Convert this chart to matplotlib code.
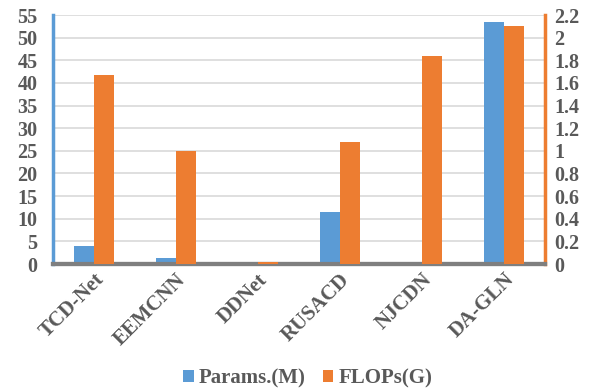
import numpy as np
import matplotlib.pyplot as plt

models = ['TCD-Net', 'EEMCNN', 'DDNet', 'RUSACD', 'NJCDN', 'DA-GLN']
params = [4.0, 1.3, 0.05, 11.6, 0.3, 53.4]
flops = [1.67, 1.0, 0.02, 1.08, 1.84, 2.105]
left_ticks = list(range(0, 56, 5))
right_ticks = [0, 0.2, 0.4, 0.6, 0.8, 1, 1.2, 1.4, 1.6, 1.8, 2, 2.2]
right_labels = ['0', '0.2', '0.4', '0.6', '0.8', '1', '1.2', '1.4', '1.6', '1.8', '2', '2.2']

blue = '#5B9BD5'
orange = '#ED7D31'
gray = '#595959'

plt.rcParams['font.family'] = ['Liberation Serif', 'DejaVu Serif']

fig = plt.figure(figsize=(6, 3.9), dpi=100)
ax = fig.add_axes([0.088, 0.323, 0.82, 0.6385])
ax2 = ax.twinx()

x = np.arange(len(models))
w = 0.245
b1 = ax.bar(x - w / 2, params, w, color=blue, label='Params.(M)', zorder=3)
b2 = ax2.bar(x + w / 2, flops, w, color=orange, label='FLOPs(G)', zorder=3)

ax.set_xlim(-0.5, len(models) - 0.5)
ax.set_ylim(0, 55)
ax2.set_ylim(0, 2.2)
ax.set_yticks(left_ticks)
ax.set_yticklabels([str(t) for t in left_ticks], fontsize=14.5, fontweight='bold')
ax2.set_yticks(right_ticks)
ax2.set_yticklabels(right_labels, fontsize=14.5, fontweight='bold')
ax.yaxis.grid(True, color='#D9D9D9', linewidth=1.2, zorder=0)
ax.set_axisbelow(True)

ax.set_xticks(x)
ax.set_xticklabels(models, rotation=45, ha='right', rotation_mode='anchor',
                   fontsize=15, fontweight='bold')

for a in (ax, ax2):
    a.tick_params(length=0, colors=gray)
    a.spines['top'].set_visible(False)
    a.spines['bottom'].set_color('#7F7F7F')
    a.spines['bottom'].set_linewidth(3)
    a.spines['left'].set_visible(False)
    a.spines['right'].set_visible(False)
ax.spines['left'].set_visible(True)
ax.spines['left'].set_color(blue)
ax.spines['left'].set_linewidth(2.5)
ax2.spines['right'].set_visible(True)
ax2.spines['right'].set_color(orange)
ax2.spines['right'].set_linewidth(2.5)
ax.tick_params(axis='y', pad=11)
ax2.tick_params(axis='y', pad=7)
ax.tick_params(axis='x', pad=4)

fig.legend([b1, b2], ['Params.(M)', 'FLOPs(G)'], loc='lower center',
           bbox_to_anchor=(0.513, -0.045), ncol=2, frameon=False,
           prop={'size': 15, 'weight': 'bold'}, labelcolor=gray,
           handlelength=0.5, handleheight=0.5, handletextpad=0.25,
           columnspacing=0.8)

fig.savefig('out.png', dpi=100)
